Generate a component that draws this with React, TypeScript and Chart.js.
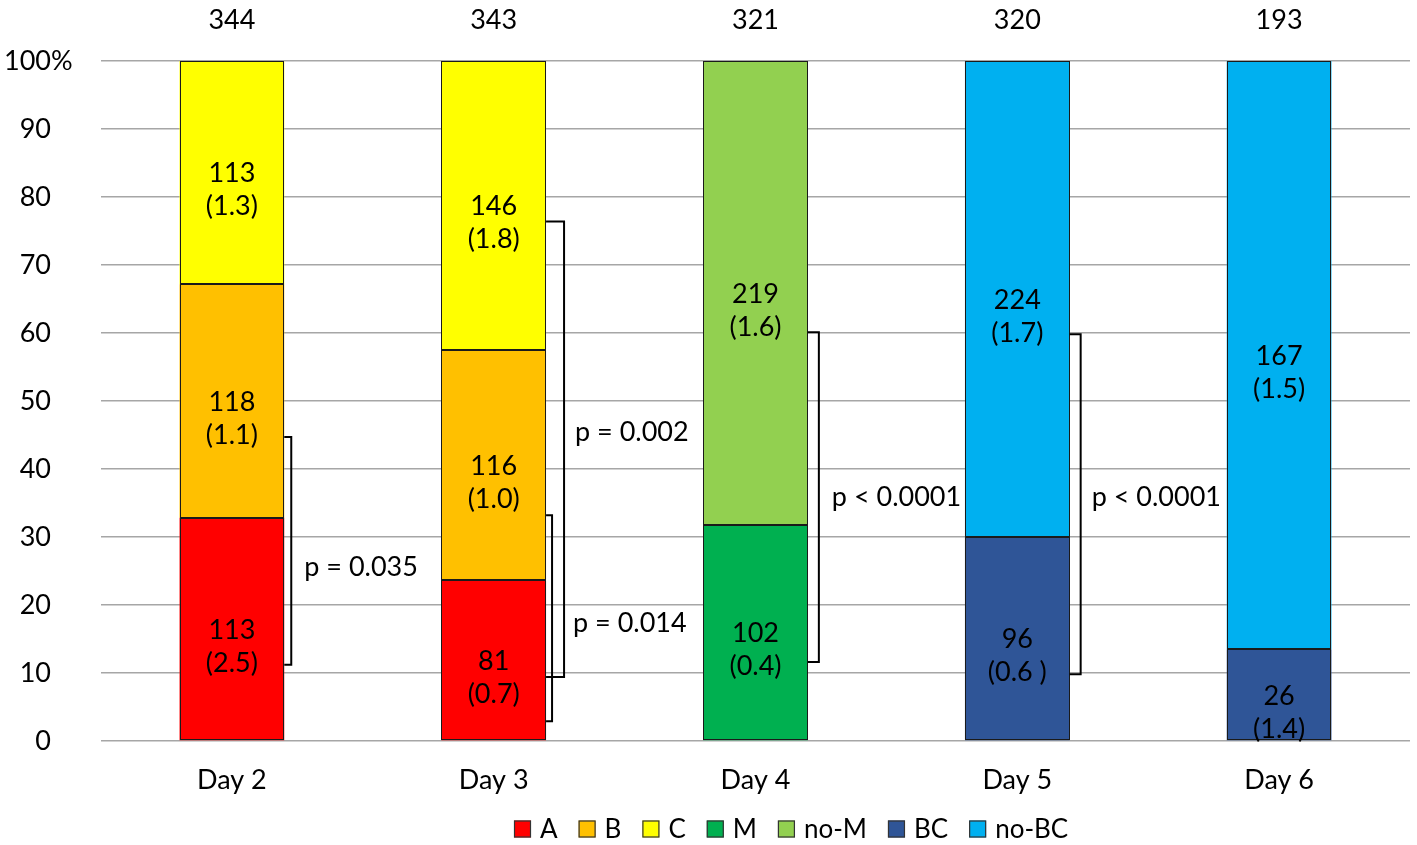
import React, { useEffect, useRef } from 'react';
import { Chart, registerables } from 'chart.js';

Chart.register(...registerables);

// ---- data ----
const days = ['Day 2', 'Day 3', 'Day 4', 'Day 5', 'Day 6'];
const totals = [344, 343, 321, 320, 193];
const seriesNames = ['A', 'B', 'C', 'M', 'no-M', 'BC', 'no-BC'];
const seriesColors = ['#FF0000', '#FFC000', '#FFFF00', '#00B050', '#92D050', '#2F5597', '#00B0F0'];

const countsA = [113, 81, null, null, null];
const countsB = [118, 116, null, null, null];
const countsC = [113, 146, null, null, null];
const countsM = [null, null, 102, null, null];
const countsNoM = [null, null, 219, null, null];
const countsBC = [null, null, null, 96, 26];
const countsNoBC = [null, null, null, 224, 167];

const ratiosA = ['(2.5)', '(0.7)', null, null, null];
const ratiosB = ['(1.1)', '(1.0)', null, null, null];
const ratiosC = ['(1.3)', '(1.8)', null, null, null];
const ratiosM = [null, null, '(0.4)', null, null];
const ratiosNoM = [null, null, '(1.6)', null, null];
const ratiosBC = [null, null, null, '(0.6 )', '(1.4)'];
const ratiosNoBC = [null, null, null, '(1.7)', '(1.5)'];

const yTickValues = [0, 10, 20, 30, 40, 50, 60, 70, 80, 90, 100];

// brackets: category index, top value, bottom value, p-value text, text y value
const bracketDay = [0, 1, 1, 2, 3];
const bracketTop = [44.7, 76.4, 33.2, 60.1, 59.8];
const bracketBottom = [11.2, 9.4, 2.9, 11.6, 9.8];
const bracketText = ['p = 0.035', 'p = 0.002', 'p = 0.014', 'p < 0.0001', 'p < 0.0001'];
const bracketTextAt = [25.6, 45.4, 17.3, 35.8, 35.8];

// styling for brackets (pixel offsets from bar edge)
const bracketLineOffset = [7, 18, 6, 11, 11];
const bracketTextOffset = [20, 29, 27, 24, 22];

const allCounts = [countsA, countsB, countsC, countsM, countsNoM, countsBC, countsNoBC];
const allRatios = [ratiosA, ratiosB, ratiosC, ratiosM, ratiosNoM, ratiosBC, ratiosNoBC];

const FONT = 'Lato, "Open Sans", sans-serif';

const overlayPlugin = {
  id: 'overlay',
  afterDatasetsDraw(chart: any) {
    const ctx = chart.ctx;
    const area = chart.chartArea;
    const xs = chart.scales.x;
    const ys = chart.scales.y;
    ctx.save();

    // crisp bar outlines
    chart.data.datasets.forEach((ds: any, di: number) => {
      const meta = chart.getDatasetMeta(di);
      meta.data.forEach((el: any, i: number) => {
        if (allCounts[di][i] == null) return;
        const p = el.getProps(['x', 'y', 'base', 'width'], true);
        const l = Math.round(p.x - p.width / 2) + 0.5;
        const r = Math.round(p.x + p.width / 2) - 0.5;
        const t = Math.round(p.y) + 0.5;
        const b = Math.round(p.base) - 0.5;
        ctx.strokeStyle = '#1a1a1a';
        ctx.lineWidth = 1;
        ctx.strokeRect(l, t, r - l, b - t);
      });
    });

    ctx.fillStyle = '#000';
    ctx.font = `27px ${FONT}`;
    ctx.textBaseline = 'middle';

    // segment labels
    chart.data.datasets.forEach((ds: any, di: number) => {
      const meta = chart.getDatasetMeta(di);
      meta.data.forEach((el: any, i: number) => {
        const c = allCounts[di][i];
        if (c == null) return;
        const props = el.getProps(['x', 'y', 'base'], true);
        const mid = (props.y + props.base) / 2;
        ctx.textAlign = 'center';
        ctx.fillText(String(c), props.x, mid + 1);
        ctx.fillText(String(allRatios[di][i]), props.x, mid + 34);
      });
    });

    // totals above bars
    ctx.textAlign = 'center';
    totals.forEach((t, i) => {
      ctx.fillText(String(t), xs.getPixelForValue(i), area.top - 41);
    });

    // category labels
    days.forEach((d, i) => {
      ctx.fillText(d, xs.getPixelForValue(i), area.bottom + 39);
    });

    // y tick labels
    yTickValues.forEach((v) => {
      const y = ys.getPixelForValue(v);
      ctx.textAlign = 'right';
      ctx.fillText(String(v), area.left - 50, y);
      if (v === 100) {
        ctx.textAlign = 'left';
        ctx.fillText('%', area.left - 50, y);
      }
    });

    // brackets
    bracketDay.forEach((d, k) => {
      let right = 0;
      chart.data.datasets.forEach((_: any, di: number) => {
        const el = chart.getDatasetMeta(di).data[d];
        if (el && allCounts[di][d] != null) {
          const p = el.getProps(['x', 'width'], true);
          right = p.x + p.width / 2;
        }
      });
      const vx = right + bracketLineOffset[k];
      const yt = ys.getPixelForValue(bracketTop[k]);
      const yb = ys.getPixelForValue(bracketBottom[k]);
      ctx.beginPath();
      ctx.strokeStyle = '#000';
      ctx.lineWidth = 2;
      ctx.moveTo(right, yt);
      ctx.lineTo(vx, yt);
      ctx.lineTo(vx, yb);
      ctx.lineTo(right, yb);
      ctx.stroke();
      ctx.textAlign = 'left';
      ctx.fillText(bracketText[k], right + bracketTextOffset[k], ys.getPixelForValue(bracketTextAt[k]));
    });

    // legend
    ctx.font = `26px ${FONT}`;
    const box = 17;
    const gapText = 9;
    const gapItem = 21;
    let total = 0;
    const widths = seriesNames.map((n) => ctx.measureText(n).width);
    widths.forEach((w, i) => {
      total += box + gapText + w + (i < widths.length - 1 ? gapItem : 0);
    });
    let x = Math.round(791 - total / 2);
    const ly = 829;
    seriesNames.forEach((n, i) => {
      ctx.fillStyle = seriesColors[i];
      ctx.fillRect(x, ly - box / 2, box, box);
      ctx.strokeStyle = '#333';
      ctx.lineWidth = 1.2;
      ctx.strokeRect(x + 0.5, ly - box / 2 + 0.5, box - 1, box - 1);
      ctx.fillStyle = '#000';
      ctx.textAlign = 'left';
      ctx.fillText(n, x + box + gapText, ly + 1);
      x += box + gapText + widths[i] + gapItem;
    });

    ctx.restore();
  },
};

export default function App() {
  const ref = useRef<HTMLCanvasElement | null>(null);
  useEffect(() => {
    if (!ref.current) return;
    const datasets = seriesNames.map((name, di) => ({
      label: name,
      data: allCounts[di].map((c, i) => (c == null ? null : (c / totals[i]) * 100)),
      backgroundColor: seriesColors[di],
      borderWidth: 0,
      barPercentage: 0.4,
      categoryPercentage: 1,
      stack: 's',
    }));
    const chart = new Chart(ref.current, {
      type: 'bar',
      data: { labels: days, datasets },
      options: {
        animation: false,
        responsive: false,
        devicePixelRatio: 1,
        layout: { padding: { left: 101, right: 7, top: 61, bottom: 104 } },
        plugins: { legend: { display: false }, tooltip: { enabled: false } },
        scales: {
          x: {
            stacked: true,
            grid: { display: false, drawTicks: false },
            border: { display: false },
            ticks: { display: false },
          },
          y: {
            stacked: true,
            min: 0,
            max: 100,
            grid: { color: '#A6A6A6', lineWidth: 1.5, drawTicks: false },
            border: { display: false },
            ticks: { display: false, stepSize: 10 },
          },
        },
      },
      plugins: [overlayPlugin],
    });
    return () => chart.destroy();
  }, []);
  return (
    <div style={{ position: 'fixed', left: 0, top: 0, width: 1417, height: 845, background: '#fff' }}>
      <canvas ref={ref} width={1417} height={845} style={{ width: 1417, height: 845 }} />
    </div>
  );
}
